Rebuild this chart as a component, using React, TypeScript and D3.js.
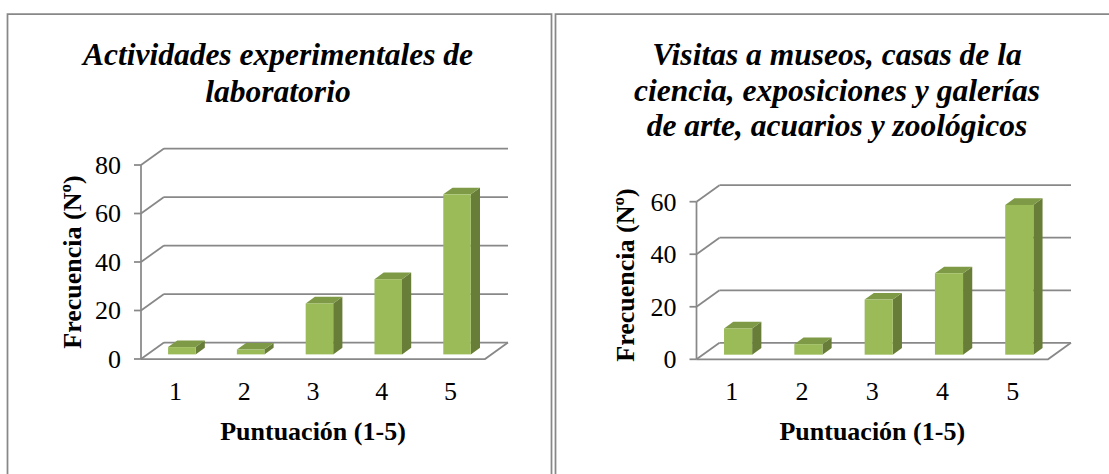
import React from "react";
import * as d3 from "d3";

// Score categories shared by both charts
const categories = ["1", "2", "3", "4", "5"];

// Frequencies per score
const labValues = [3, 2, 21, 31, 66];
const museumValues = [10, 4, 21, 31, 57];

// Value-axis ticks
const labTicks = [0, 20, 40, 60, 80];
const museumTicks = [0, 20, 40, 60];

// Titles
const labTitle = ["Actividades experimentales de", "laboratorio"];
const museumTitle = [
  "Visitas a museos, casas de la",
  "ciencia, exposiciones y galerías",
  "de arte, acuarios y zoológicos",
];
const yAxisTitle = "Frecuencia (Nº)";
const xAxisTitle = "Puntuación (1-5)";

const W = 1109;
const H = 474;
const FONT = "'Liberation Serif', 'Times New Roman', serif";
const GRID = "#888888";
const FRONT = "#9BBB59";
const SIDE = "#677D38";
const TOP = "#7E9A46";

type ChartProps = {
  values: number[];
  ticks: number[];
  title: string[];
  frame: { left: number; right: number; top: number };
  plot: { x0: number; x1: number; yBase: number; yTop: number };
  titleX: number;
  titleY: number[];
  yTitlePos: { x: number; y: number };
};

// Wall depth offset for the 3-D floor and back wall
const DX = 23;
const DY = -16.5;
// Bars sit part-way into the floor and take a slice of its depth
const BAR_FRONT = 0.28;
const BAR_DEPTH = 0.4;

function Chart3D({ values, ticks, title, frame, plot, titleX, titleY, yTitlePos }: ChartProps) {
  const x = d3.scaleBand<string>().domain(categories).range([plot.x0, plot.x1]).padding(0);
  const yMax = ticks[ticks.length - 1];
  const y = d3.scaleLinear().domain([0, yMax]).range([plot.yBase, plot.yTop]);
  const bw = x.bandwidth() * 0.4;
  const ox = DX * BAR_FRONT;
  const oy = DY * BAR_FRONT;
  const bdx = DX * BAR_DEPTH;
  const bdy = DY * BAR_DEPTH;

  const backRight = plot.x1 + DX;

  return (
    <g>
      {/* frame */}
      <path
        d={`M${frame.left},${H + 10} V${frame.top} H${frame.right} V${H + 10}`}
        fill="none"
        stroke="#888888"
        strokeWidth={1.75}
      />
      {/* title */}
      {title.map((line, i) => (
        <text
          key={i}
          x={titleX}
          y={titleY[i]}
          textAnchor="middle"
          fontFamily={FONT}
          fontWeight="bold"
          fontStyle="italic"
          fontSize={31.5}
          fill="#000"
        >
          {line}
        </text>
      ))}
      {/* side wall diagonals and back-wall gridlines */}
      {ticks.map((t) => (
        <g key={t}>
          <line x1={plot.x0} y1={y(t)} x2={plot.x0 + DX} y2={y(t) + DY} stroke={GRID} strokeWidth={1.75} />
          <line x1={plot.x0 + DX} y1={y(t) + DY} x2={backRight} y2={y(t) + DY} stroke={GRID} strokeWidth={1.75} />
          <line x1={plot.x0 - 7} y1={y(t)} x2={plot.x0} y2={y(t)} stroke={GRID} strokeWidth={1.75} />
          <text
            x={plot.x0 - 20}
            y={y(t)}
            dy="0.34em"
            textAnchor="end"
            fontFamily={FONT}
            fontSize={26}
            fill="#000"
          >
            {t}
          </text>
        </g>
      ))}
      {/* value axis */}
      <line x1={plot.x0} y1={y(yMax)} x2={plot.x0} y2={y(0)} stroke={GRID} strokeWidth={1.75} />
      {/* floor front edge */}
      <path
        d={`M${plot.x0},${y(0)} H${plot.x1} L${backRight},${y(0) + DY}`}
        fill="none"
        stroke={GRID}
        strokeWidth={1.75}
      />
      {/* bars */}
      {values.map((v, i) => {
        const c = categories[i];
        const left = (x(c) as number) + x.bandwidth() / 2 - bw / 2 + ox;
        const right = left + bw;
        const base = y(0) + oy;
        const top = y(v) + oy;
        return (
          <g key={c}>
            <path
              d={`M${right},${top} L${right + bdx},${top + bdy} V${base + bdy} L${right},${base} Z`}
              fill={SIDE}
            />
            <path
              d={`M${left},${top} L${left + bdx},${top + bdy} H${right + bdx} L${right},${top} Z`}
              fill={TOP}
            />
            <rect x={left} y={top} width={bw} height={base - top} fill={FRONT} />
          </g>
        );
      })}
      {/* category labels */}
      {categories.map((c) => (
        <text
          key={c}
          x={(x(c) as number) + x.bandwidth() / 2}
          y={400}
          textAnchor="middle"
          fontFamily={FONT}
          fontSize={26}
          fill="#000"
        >
          {c}
        </text>
      ))}
      {/* axis titles */}
      <text
        x={(plot.x0 + plot.x1) / 2}
        y={440}
        textAnchor="middle"
        fontFamily={FONT}
        fontWeight="bold"
        fontSize={26}
        fill="#000"
      >
        {xAxisTitle}
      </text>
      <text
        transform={`translate(${yTitlePos.x},${yTitlePos.y}) rotate(-90)`}
        textAnchor="middle"
        fontFamily={FONT}
        fontWeight="bold"
        fontSize={26}
        fill="#000"
      >
        {yAxisTitle}
      </text>
    </g>
  );
}

export default function App() {
  return (
    <div style={{ position: "absolute", left: 0, top: 0, width: W, height: H, background: "#fff" }}>
      <svg width={W} height={H} viewBox={`0 0 ${W} ${H}`} style={{ display: "block" }}>
        <rect width={W} height={H} fill="#fff" />
        <Chart3D
          values={labValues}
          ticks={labTicks}
          title={labTitle}
          frame={{ left: 7.5, right: 551.5, top: 14 }}
          plot={{ x0: 141, x1: 485, yBase: 359, yTop: 165 }}
          titleX={278}
          titleY={[65, 101.5]}
          yTitlePos={{ x: 81, y: 262 }}
        />
        <Chart3D
          values={museumValues}
          ticks={museumTicks}
          title={museumTitle}
          frame={{ left: 555.5, right: W + 10, top: 14 }}
          plot={{ x0: 696.5, x1: 1048, yBase: 359.3, yTop: 201.7 }}
          titleX={837}
          titleY={[65, 100.5, 136]}
          yTitlePos={{ x: 634, y: 275 }}
        />
      </svg>
    </div>
  );
}
